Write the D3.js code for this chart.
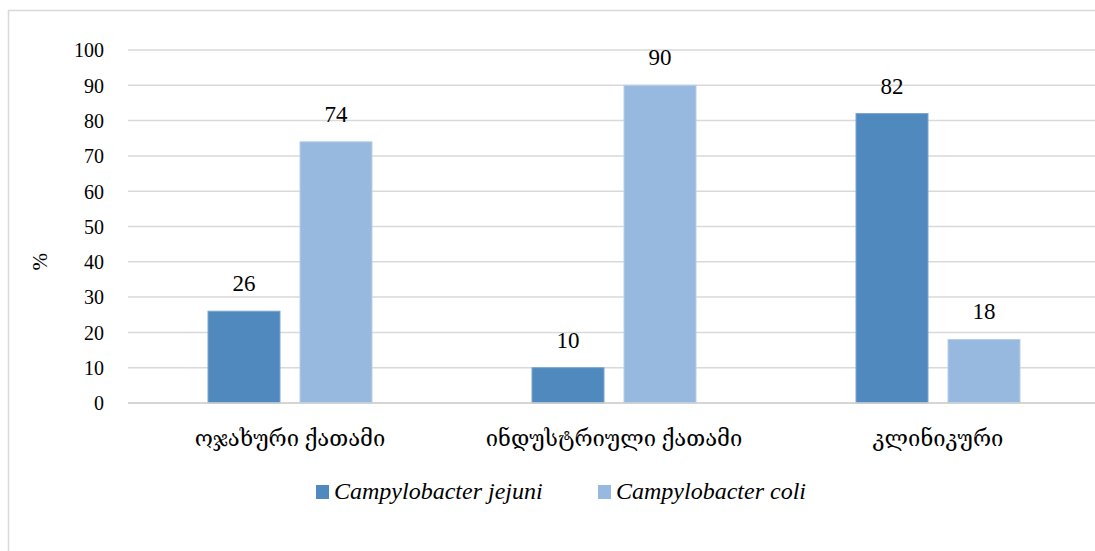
<!DOCTYPE html>
<html>
<head>
<meta charset="utf-8">
<script src="https://cdn.jsdelivr.net/npm/d3@7"></script>
<style>
  html, body { margin: 0; padding: 0; background: #fff; }
  svg { display: block; }
</style>
</head>
<body>
<svg id="chart" width="1095" height="551"></svg>
<script>
// Categories (Georgian) and the two species series, in percent
const categories = ["ოჯახური ქათამი", "ინდუსტრიული ქათამი", "კლინიკური"];
const seriesNames = ["Campylobacter jejuni", "Campylobacter coli"];
const jejuni = [26, 10, 82];
const coli = [74, 90, 18];
const yTicks = [0, 10, 20, 30, 40, 50, 60, 70, 80, 90, 100];
const colors = ["#4f89bd", "#97b9e0"];

const FONT = "'Liberation Serif', 'Times New Roman', Tinos, 'DejaVu Serif', 'Noto Serif', serif";

const svg = d3.select("#chart").attr("font-family", FONT);
const W = 1095, H = 551;

// Outer chart frame
svg.append("rect")
  .attr("x", 8.5).attr("y", 10.5)
  .attr("width", W + 20).attr("height", H + 20)
  .attr("fill", "#fff").attr("stroke", "#d9d9d9").attr("stroke-width", 1.5);

const plot = { left: 128, right: 1100, top: 50, bottom: 403 };

const y = d3.scaleLinear().domain([0, 100]).range([plot.bottom, plot.top]);
const x0 = d3.scaleBand().domain(categories).range([plot.left, plot.right]).padding(0);
const x1 = d3.scaleBand().domain(seriesNames).range([-82, 82]).paddingInner(0.2174).paddingOuter(0);

// Gridlines
svg.append("g")
  .selectAll("line")
  .data(yTicks)
  .join("line")
  .attr("x1", plot.left).attr("x2", plot.right)
  .attr("y1", d => y(d)).attr("y2", d => y(d))
  .attr("stroke", "#d9d9d9").attr("stroke-width", 1.5);

// Y axis tick labels
const yAxis = d3.axisLeft(y).tickValues(yTicks).tickSize(0).tickPadding(0);
const gy = svg.append("g").attr("transform", "translate(104,0)").call(yAxis)
  .attr("font-family", FONT).attr("font-size", 20);
gy.select(".domain").remove();
gy.selectAll("text").attr("fill", "#000").attr("dy", "0.34em");

// Y axis title
svg.append("text")
  .attr("transform", `translate(47,${y(40)}) rotate(-90)`)
  .attr("text-anchor", "middle")
  .attr("font-size", 21)
  .text("%");

// Bars
const rows = categories.map((c, i) => ({ cat: c, vals: [jejuni[i], coli[i]] }));
const groups = svg.append("g").selectAll("g")
  .data(rows)
  .join("g")
  .attr("transform", d => `translate(${x0(d.cat) + x0.bandwidth() / 2},0)`);

groups.selectAll("rect")
  .data(d => d.vals.map((v, j) => ({ s: seriesNames[j], v, j })))
  .join("rect")
  .attr("x", d => x1(d.s))
  .attr("width", x1.bandwidth())
  .attr("y", d => y(d.v))
  .attr("height", d => y(0) - y(d.v))
  .attr("fill", d => colors[d.j])
  .attr("stroke", d => d.j === 0 ? "#7aa6d2" : "#b7cfea")
  .attr("stroke-width", 1);

// Value labels
groups.selectAll("text.val")
  .data(d => d.vals.map((v, j) => ({ s: seriesNames[j], v, j })))
  .join("text")
  .attr("class", "val")
  .attr("x", d => x1(d.s) + x1.bandwidth() / 2)
  .attr("y", d => y(d.v) - 20)
  .attr("text-anchor", "middle")
  .attr("font-size", 23)
  .text(d => d.v);

// Baseline
svg.append("line")
  .attr("x1", plot.left).attr("x2", plot.right)
  .attr("y1", y(0)).attr("y2", y(0))
  .attr("stroke", "#d0d0d0").attr("stroke-width", 1.5);

// Category labels
svg.append("g").selectAll("text")
  .data(categories)
  .join("text")
  .attr("x", d => x0(d) + x0.bandwidth() / 2)
  .attr("y", 446)
  .attr("text-anchor", "middle")
  .attr("font-size", 22)
  .text(d => d);

// Legend
const legendItems = [
  { name: seriesNames[0], color: colors[0], x: 316 },
  { name: seriesNames[1], color: colors[1], x: 598 }
];
const lg = svg.append("g").selectAll("g")
  .data(legendItems)
  .join("g")
  .attr("transform", d => `translate(${d.x},0)`);
lg.append("rect")
  .attr("x", 0).attr("y", 485).attr("width", 13).attr("height", 14)
  .attr("fill", d => d.color);
lg.append("text")
  .attr("x", 18).attr("y", 499)
  .attr("font-size", 24).attr("font-style", "italic")
  .text(d => d.name);
</script>
</body>
</html>
